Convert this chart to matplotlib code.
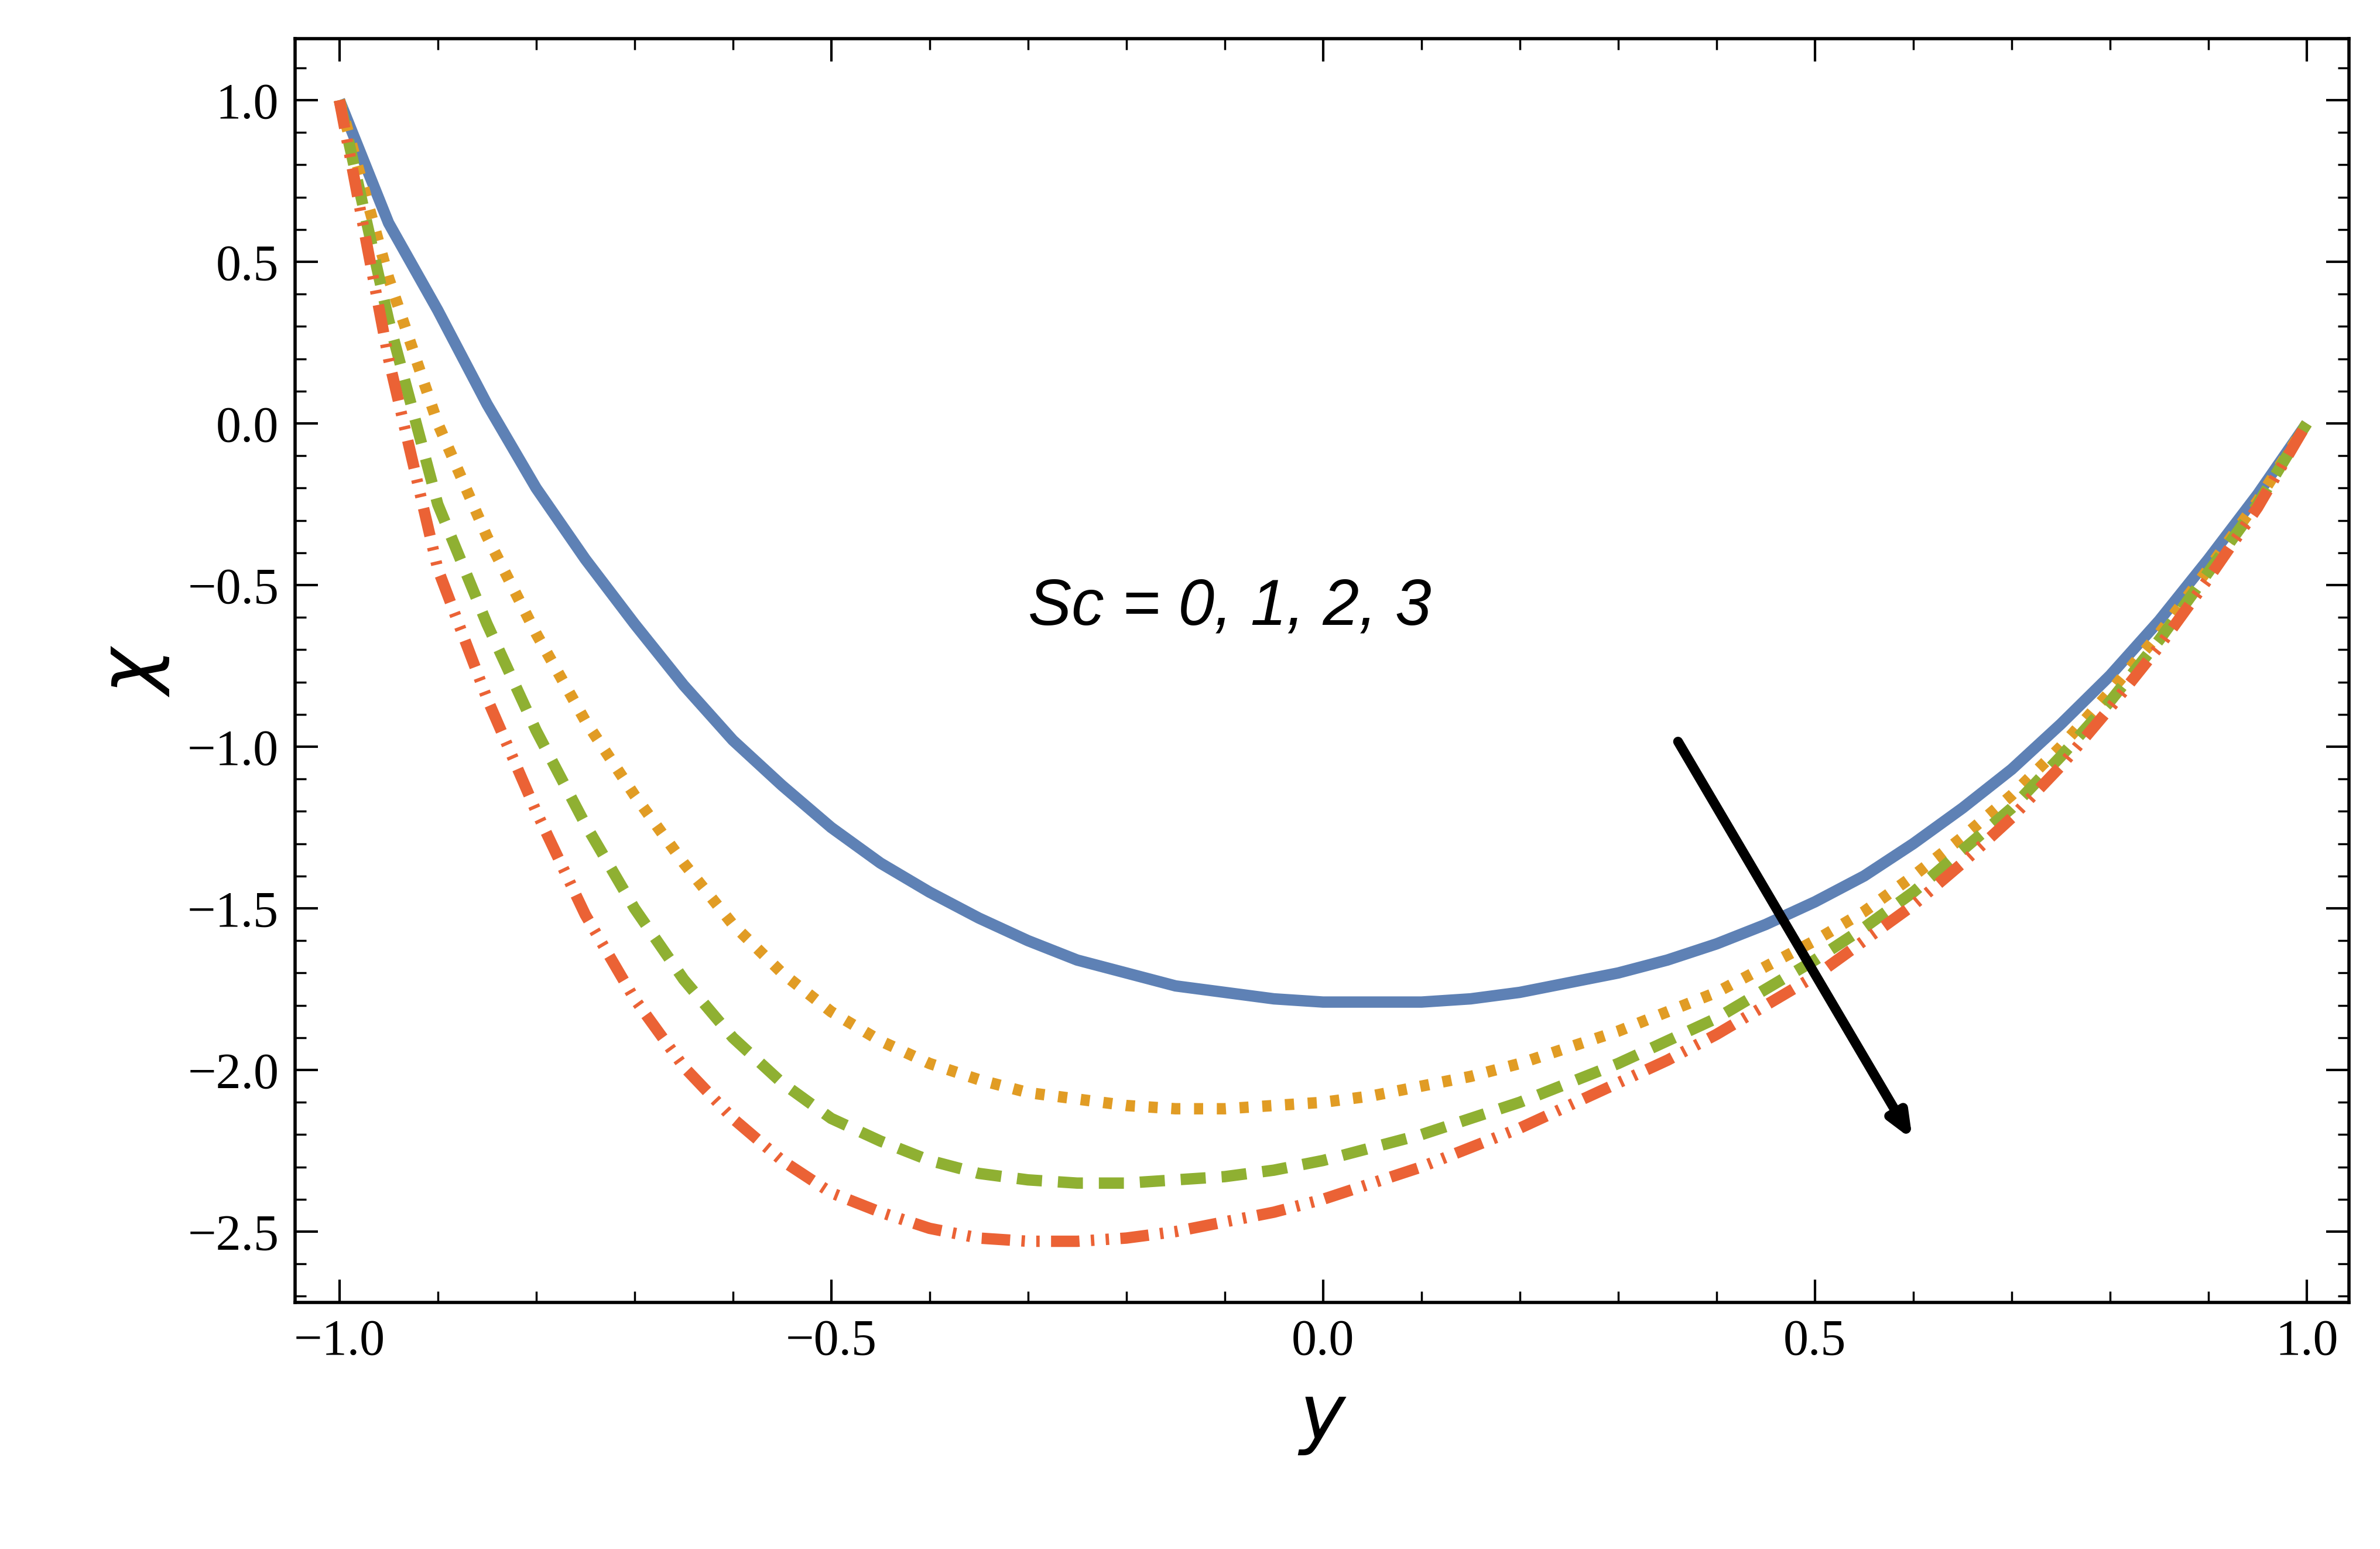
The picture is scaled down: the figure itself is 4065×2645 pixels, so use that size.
import matplotlib
matplotlib.use("Agg")
import matplotlib.pyplot as plt
import numpy as np

ys = np.round(np.arange(-1.0, 1.0001, 0.05), 3)
chi_sc0 = [1.0, 0.62, 0.35, 0.06, -0.2, -0.42, -0.62, -0.81, -0.98, -1.12, -1.25, -1.36, -1.45, -1.53, -1.6, -1.66,
           -1.7, -1.74, -1.76, -1.78, -1.79, -1.79, -1.79, -1.78, -1.76, -1.73, -1.7, -1.66, -1.61, -1.55,
           -1.48, -1.40, -1.3, -1.19, -1.07, -0.93, -0.78, -0.61, -0.42, -0.22, 0.0]
chi_sc1 = [1.0, 0.45, 0.0, -0.35, -0.65, -0.92, -1.15, -1.36, -1.55, -1.70, -1.82, -1.91, -1.98, -2.03, -2.07, -2.09,
           -2.11, -2.12, -2.12, -2.11, -2.1, -2.08, -2.05, -2.02, -1.98, -1.93, -1.88, -1.82, -1.76, -1.68,
           -1.6, -1.51, -1.4, -1.28, -1.15, -1.0, -0.83, -0.65, -0.45, -0.24, 0.0]
chi_sc2 = [1.0, 0.32, -0.25, -0.62, -0.95, -1.24, -1.5, -1.72, -1.9, -2.04, -2.15, -2.22, -2.28, -2.32, -2.34, -2.35,
           -2.35, -2.34, -2.33, -2.31, -2.28, -2.24, -2.2, -2.15, -2.1, -2.04, -1.98, -1.91, -1.84, -1.75,
           -1.66, -1.56, -1.45, -1.32, -1.19, -1.03, -0.86, -0.67, -0.46, -0.25, 0.0]
chi_sc3 = [1.0, 0.2, -0.45, -0.85, -1.2, -1.52, -1.78, -1.99, -2.15, -2.28, -2.38, -2.44, -2.49, -2.52, -2.53, -2.53,
           -2.52, -2.50, -2.47, -2.44, -2.4, -2.35, -2.3, -2.24, -2.18, -2.11, -2.04, -1.97, -1.89, -1.80,
           -1.71, -1.60, -1.49, -1.36, -1.22, -1.06, -0.88, -0.69, -0.48, -0.26, 0.0]

fig = plt.figure(figsize=(40.65, 26.45), dpi=100)
ax = fig.add_axes([0.124, 0.159, 0.863, 0.816])
lw = 14
ax.plot(ys, chi_sc0, color="#5E81B5", lw=lw, solid_capstyle="butt")
ax.plot(ys, chi_sc1, color="#E19C24", lw=lw, linestyle=(0, (0.8, 1.2)))
ax.plot(ys, chi_sc2, color="#8FB032", lw=lw, linestyle=(0, (2.2, 1.4)))
ax.plot(ys, chi_sc3, color="#EB6235", lw=lw, linestyle=(0, (2.5, 1.0, 0.3, 1.0, 0.3, 1.0)))

ax.set_xlim(-1.045, 1.043)
ax.set_ylim(-2.72, 1.19)
ax.set_xticks([-1.0, -0.5, 0.0, 0.5, 1.0])
ax.set_yticks([1.0, 0.5, 0.0, -0.5, -1.0, -1.5, -2.0, -2.5])
ax.set_xticks(np.arange(-1.0, 1.01, 0.1), minor=True)
ax.set_yticks(np.arange(-2.7, 1.15, 0.1), minor=True)
ax.tick_params(which="major", direction="in", length=28, width=3, labelsize=62, pad=20, top=True, right=True)
ax.tick_params(which="minor", direction="in", length=14, width=2.5, top=True, right=True)
for s in ax.spines.values():
    s.set_linewidth(4)
for lab in ax.get_xticklabels() + ax.get_yticklabels():
    lab.set_family("Liberation Serif")
ax.set_xlabel("$y$", fontsize=95, labelpad=20)
ax.set_ylabel("$\\chi$", fontsize=95, labelpad=20)
ax.text(-0.30, -0.57, "Sc = 0, 1, 2, 3", fontsize=80, style="italic", family="Liberation Sans", ha="left", va="center")
ax.annotate("", xy=(0.6, -2.22), xytext=(0.36, -0.98),
            arrowprops=dict(arrowstyle="-|>,head_length=2.4,head_width=1.0", lw=12, color="black"))
fig.savefig("out.png", dpi=100)
